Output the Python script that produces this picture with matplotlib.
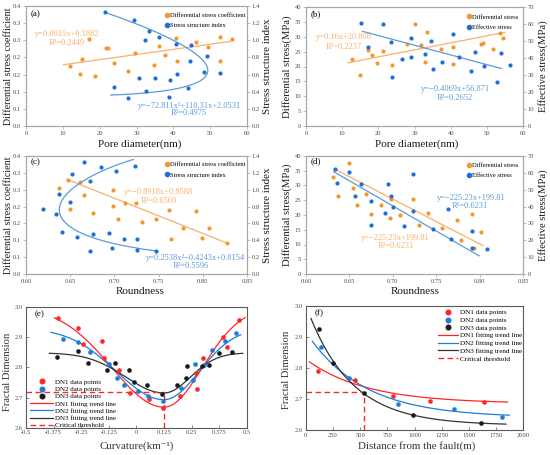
import numpy as np
import matplotlib
matplotlib.use('Agg')
import matplotlib.pyplot as plt
from matplotlib.path import Path
from matplotlib.patches import PathPatch
from matplotlib.lines import Line2D

plt.rcParams['font.family'] = ['Liberation Serif', 'DejaVu Serif']
plt.rcParams['axes.unicode_minus'] = False

# ---------------- data: panel (a) ----------------
a_pore_dsc = [11.97, 15.32, 17.23, 14.78, 18.68, 21.76, 22.39, 23.93, 27.65, 29.46,
              34.63, 36.08, 37.72, 40.71, 40.98, 46.24, 49.32, 52.67, 52.67, 55.85]
a_dsc = [0.1745, 0.1963, 0.2528, 0.1517, 0.1448, 0.2280, 0.2280, 0.1844, 0.1606, 0.2122,
         0.1765, 0.2340, 0.2082, 0.2578, 0.1894, 0.2449, 0.2310, 0.2588, 0.1894, 0.2548]
a_pore_ssi = [21.49, 29.28, 33.45, 32.18, 36.17, 40.71, 44.88, 44.51, 49.23, 48.41,
              52.67, 23.93, 30.64, 35.09, 39.17, 40.89, 32.55, 44.06, 38.80, 27.74]
a_ssi = [1.325, 1.234, 1.111, 1.004, 1.039, 0.952, 0.944, 0.754, 0.813, 0.635,
         0.619, 0.460, 0.559, 0.559, 0.536, 0.603, 0.409, 0.444, 0.337, 0.321]
a_lin_fit = (0.0015, 0.1635)          # slope, intercept (as drawn)
a_lin_range = [10.2, 55.5]
a_curve_x = [21.48, 41.87, 71.77, 22.84]   # Bezier trend-curve control points
a_curve_y = [1.324, 1.029, 0.435, 0.361]

# ---------------- data: panel (b) ----------------
b_pore_ds = [12.6, 15.0, 17.1, 18.3, 19.7, 21.3, 23.8, 27.9, 30.0, 31.8,
             33.0, 33.5, 37.3, 40.7, 40.7, 48.3, 48.9, 51.6, 53.7, 54.6]
b_ds = [22.4, 17.2, 25.5, 23.9, 21.1, 25.3, 20.6, 27.6, 34.2, 27.3,
        21.5, 31.7, 26.0, 26.4, 21.0, 27.4, 28.0, 25.8, 31.4, 29.5]
b_pore_es = [15.2, 21.3, 17.1, 23.5, 29.1, 23.8, 26.6, 28.9, 32.8, 34.7,
             35.1, 37.5, 40.7, 42.3, 46.8, 45.7, 49.3, 52.9, 53.9, 56.3]
b_es = [60.6, 60.0, 46.5, 49.7, 51.9, 29.0, 39.6, 40.4, 42.2, 50.1,
        33.6, 37.4, 54.3, 40.4, 43.7, 32.6, 35.4, 25.7, 43.0, 35.6]
b_ds_fit = (0.236, 18.51)
b_ds_range = [11.6, 55.0]
b_es_fit = (-0.570, 64.6)
b_es_range = [15.6, 54.0]

# ---------------- data: panel (c) ----------------
c_round_dsc = [0.6472, 0.6378, 0.6612, 0.6661, 0.6498, 0.6755, 0.6989, 0.6982, 0.7122, 0.7246,
               0.7046, 0.7310, 0.7473, 0.7613, 0.7639, 0.7775, 0.7918, 0.7986, 0.8066, 0.8277]
c_dsc = [0.280, 0.256, 0.273, 0.235, 0.194, 0.182, 0.250, 0.202, 0.212, 0.212,
         0.164, 0.154, 0.164, 0.191, 0.105, 0.135, 0.188, 0.108, 0.136, 0.091]
c_round_ssi = [0.6196, 0.6336, 0.6374, 0.6498, 0.6517, 0.6661, 0.6850, 0.7020, 0.7235, 0.6725,
               0.6412, 0.6574, 0.6763, 0.6940, 0.7103, 0.7254, 0.6725, 0.6971, 0.7254, 0.7469]
c_ssi = [0.767, 0.708, 0.945, 0.854, 1.190, 1.329, 1.269, 1.222, 1.281, 1.103,
         0.498, 0.440, 0.470, 0.490, 0.415, 0.411, 0.269, 0.308, 0.289, 0.269]
c_lin_fit = (-1.044, 0.9555)
c_lin_range = [0.6461, 0.8281]
c_curve_x = [0.7223, 0.6430, 0.5698, 0.7473]
c_curve_y = [1.361, 1.120, 0.518, 0.273]

# ---------------- data: panel (d) ----------------
d_round_ds = [0.6306, 0.6364, 0.6490, 0.6536, 0.6586, 0.6693, 0.6750, 0.6861, 0.6969, 0.6980,
              0.7083, 0.7229, 0.7302, 0.7401, 0.7570, 0.7734, 0.7784, 0.7918, 0.7933, 0.8018]
d_ds = [32.9, 26.3, 37.6, 29.3, 23.3, 27.0, 20.5, 23.3, 19.0, 25.4,
        19.9, 25.3, 16.7, 20.6, 15.6, 18.2, 11.6, 20.3, 8.7, 14.4]
d_round_es = [0.6329, 0.6360, 0.6490, 0.6570, 0.6636, 0.6750, 0.6750, 0.6911, 0.6942, 0.6980,
              0.6999, 0.7126, 0.7229, 0.7229, 0.7459, 0.7631, 0.7669, 0.7918, 0.7918, 0.8083]
d_es = [62.1, 54.0, 60.3, 46.5, 53.2, 43.1, 28.9, 36.2, 53.2, 46.5,
        39.9, 28.5, 59.5, 37.2, 26.9, 38.8, 20.6, 25.5, 15.2, 15.0]
d_ds_fit = (-152.0, 131.8)
d_ds_range = [0.633, 0.804]
d_es_fit = (-298.0, 249.0)
d_es_range = [0.6318, 0.7995]

# ---------------- data: panel (e) ----------------
e_dn1_x = [-0.3565, -0.2628, -0.2402, -0.1556, -0.1465, -0.0785, -0.0287, 0.0589,
           0.1208, 0.1994, 0.2749, 0.2719, 0.3021, 0.3943, 0.4094, 0.4637]
e_dn1_y = [2.963, 2.931, 2.879, 2.886, 2.831, 2.790, 2.716, 2.696,
           2.664, 2.706, 2.728, 2.782, 2.831, 2.902, 2.869, 2.958]
e_dn2_x = [-0.3308, -0.2643, -0.2100, -0.1239, -0.0891, -0.0544, 0.0060, 0.0544,
           0.1193, 0.2024, 0.2553, 0.2659, 0.3066, 0.3414, 0.4018, 0.4532]
e_dn2_y = [2.894, 2.883, 2.851, 2.812, 2.765, 2.740, 2.721, 2.704,
           2.689, 2.732, 2.758, 2.810, 2.808, 2.858, 2.887, 2.913]
e_dn3_x = [-0.3610, -0.2643, -0.2175, -0.1344, -0.0967, -0.0317, -0.0106, 0.0468,
           0.1178, 0.1828, 0.2251, 0.2281, 0.2961, 0.3308, 0.3746, 0.4350]
e_dn3_y = [2.835, 2.855, 2.816, 2.791, 2.813, 2.791, 2.751, 2.741,
           2.713, 2.741, 2.764, 2.805, 2.805, 2.807, 2.846, 2.851]
# asymmetric gaussian trough fits: base, depth, k_left, k_right, x_start, x_end
e_fit_dn1 = (3.000, 0.332, 9.0, 16.6, -0.372, 0.4925)
e_fit_dn2 = (2.930, 0.237, 10.8, 19.6, -0.387, 0.473)
e_fit_dn3 = (2.848, 0.133, 17.0, 35.0, -0.394, 0.482)
e_center = 0.125
e_threshold = 2.718
e_xticks = [-0.5, -0.375, -0.25, -0.125, 0, 0.125, 0.25, 0.375, 0.5]
e_xticklabels = ['-0.5', '-0.375', '-0.25', '-0.125', '0', '0.125', '0.25', '0.375', '0.5']

# ---------------- data: panel (f) ----------------
f_dn1_x = [116, 453, 805, 1142, 1642]
f_dn1_y = [2.791, 2.761, 2.710, 2.694, 2.690]
f_dn2_x = [141, 398, 845, 1363, 1807]
f_dn2_y = [2.866, 2.767, 2.684, 2.668, 2.643]
f_dn3_x = [126, 248, 533, 989, 1611]
f_dn3_y = [2.926, 2.815, 2.719, 2.648, 2.624]
# exponential decay fits: c, a, t, x_start, x_end  (y = c + a*exp(-x/t))
f_fit_dn1 = (2.685, 0.1425, 550, 34, 1856)
f_fit_dn2 = (2.640, 0.2755, 520, 61, 1871)
f_fit_dn3 = (2.615, 0.3877, 400, 49, 1841)
f_threshold_x = 533
f_threshold = 2.721

# ---------------- styles ----------------
ORANGE = '#F5972F'
BLUE = '#1F6FD6'
OL = '#F8B06A'
BL = '#5B9BDB'
RED = '#FF2626'
EBLUE = '#1F7BD8'
BLACK = '#1A1A1A'
GRID_GRAY = '#A6A6A6'
TICK_GRAY = '#4D4D4D'

W, H = 550, 455
fig = plt.figure(figsize=(5.5, 4.55), dpi=100)
fig.patch.set_facecolor('white')


def box(l, r, t, b):
    return [l / W, 1 - b / H, (r - l) / W, (b - t) / H]


def style_excel(ax):
    for s in ax.spines.values():
        s.set_color(GRID_GRAY)
        s.set_linewidth(0.8)
    ax.tick_params(direction='out', length=2, width=0.5, color=GRID_GRAY,
                   labelsize=4.7, labelcolor=TICK_GRAY, pad=1.5)


def style_origin(ax):
    for s in ax.spines.values():
        s.set_color('#5A5A5A')
        s.set_linewidth(0.8)
    ax.tick_params(direction='in', length=2, width=0.5, color='#5A5A5A',
                   labelsize=4.7, labelcolor=TICK_GRAY, pad=2)


def set_label(axis, text, x, y, size=8.0, color='#1A1A1A'):
    axis.set_label_text(text, fontsize=size, color=color)
    axis.label.set_verticalalignment('center')
    axis.label.set_horizontalalignment('center')
    axis.set_label_coords(x, y)


def bezier(ax, xs, ys, color):
    verts = list(zip(xs, ys))
    codes = [Path.MOVETO, Path.CURVE4, Path.CURVE4, Path.CURVE4]
    ax.add_patch(PathPatch(Path(verts, codes), fill=False, ec=color, lw=0.9,
                           transform=ax.transData, zorder=2))


def line_fit(ax, fit, rng, color):
    xs = np.array(rng)
    ax.plot(xs, fit[0] * xs + fit[1], color=color, lw=0.9, zorder=2)


def marker_legend(ax, labels, colors, bbox):
    hs = [Line2D([], [], marker='o', ls='none', color=c, ms=3.0) for c in colors]
    ax.legend(hs, labels, loc='upper right', bbox_to_anchor=bbox, frameon=False,
              fontsize=4.6, handlelength=0.6, handletextpad=0.2, labelspacing=0.75,
              borderaxespad=0.0, borderpad=0.2)


left_dsc_ticks = [0, 0.05, 0.10, 0.15, 0.20, 0.25, 0.30, 0.35]
left_dsc_labels = ['0.0', '0.1', '0.1', '0.2', '0.2', '0.3', '0.3', '0.4']
right_ssi_ticks = [0, 0.2, 0.4, 0.6, 0.8, 1.0, 1.2, 1.4]

MS = 9

# ---------------- (a) ----------------
ax = fig.add_axes(box(26, 247, 6, 126))
ax2 = ax.twinx()
style_excel(ax); style_excel(ax2)
ax.set_xlim(0, 60); ax.set_xticks(range(0, 61, 10))
ax.set_ylim(0, 0.35); ax.set_yticks(left_dsc_ticks); ax.set_yticklabels(left_dsc_labels)
ax2.set_ylim(0, 1.4); ax2.set_yticks(right_ssi_ticks)
ax2.set_yticklabels([f'{v:.1f}' for v in right_ssi_ticks])
ax.scatter(a_pore_dsc, a_dsc, s=MS, color=ORANGE, lw=0, zorder=3)
ax2.scatter(a_pore_ssi, a_ssi, s=MS, color=BLUE, lw=0, zorder=3)
line_fit(ax, a_lin_fit, a_lin_range, OL)
bezier(ax2, a_curve_x, a_curve_y, BL)
ax.text(0.02, 0.93, '(a)', transform=ax.transAxes, fontsize=6.5, ha='left', va='center')
ax.text(0.184, 0.764, 'y=0.0015x+0.1882', transform=ax.transAxes, fontsize=6, color=OL, ha='center', va='center')
ax.text(0.184, 0.694, 'R²=0.2449', transform=ax.transAxes, fontsize=6, color=OL, ha='center', va='center')
ax.text(0.742, 0.167, 'y=−72.811x²+110.31x+2.0531', transform=ax.transAxes, fontsize=6, color=BL, ha='center', va='center')
ax.text(0.737, 0.106, 'R²=0.4975', transform=ax.transAxes, fontsize=6, color=BL, ha='center', va='center')
marker_legend(ax2, ['Differential stress coefficient', 'Stress structure index'], [ORANGE, BLUE], (1.0, 0.955))
set_label(ax.xaxis, 'Pore diameter(nm)', 0.516, -0.15)
set_label(ax.yaxis, 'Differential stress coefficient', -0.08, 0.5, size=7.2)
set_label(ax2.yaxis, 'Stress structure index', 1.092, 0.5)

# ---------------- (b) ----------------
ax = fig.add_axes(box(306, 523, 7, 126))
ax2 = ax.twinx()
style_excel(ax); style_excel(ax2)
ax.set_xlim(0, 60); ax.set_xticks(range(0, 61, 10))
ax.set_ylim(0, 40); ax.set_yticks(range(0, 41, 5))
ax2.set_ylim(0, 70); ax2.set_yticks(range(0, 71, 10))
ax.scatter(b_pore_ds, b_ds, s=MS, color=ORANGE, lw=0, zorder=3)
ax2.scatter(b_pore_es, b_es, s=MS, color=BLUE, lw=0, zorder=3)
line_fit(ax, b_ds_fit, b_ds_range, OL)
line_fit(ax2, b_es_fit, b_es_range, BL)
ax.text(0.02, 0.94, '(b)', transform=ax.transAxes, fontsize=6.5, ha='left', va='center')
ax.text(0.175, 0.745, 'y=0.16x+20.808', transform=ax.transAxes, fontsize=6, color=OL, ha='center', va='center')
ax.text(0.172, 0.666, 'R²=0.2237', transform=ax.transAxes, fontsize=6, color=OL, ha='center', va='center')
ax.text(0.687, 0.308, 'y=−0.4069x+56.871', transform=ax.transAxes, fontsize=6, color=BL, ha='center', va='center')
ax.text(0.687, 0.233, 'R²=0.2652', transform=ax.transAxes, fontsize=6, color=BL, ha='center', va='center')
marker_legend(ax2, ['Differential stress', 'Effective stress'], [ORANGE, BLUE], (0.985, 0.95))
set_label(ax.xaxis, 'Pore diameter(nm)', 0.511, -0.154)
set_label(ax.yaxis, 'Differential stress(MPa)', -0.088, 0.5, size=7.7)
set_label(ax2.yaxis, 'Effective stress(MPa)', 1.09, 0.5, size=7.7)

# ---------------- (c) ----------------
ax = fig.add_axes(box(26, 247, 156, 274))
ax2 = ax.twinx()
style_excel(ax); style_excel(ax2)
ax.set_xlim(0.60, 0.85); ax.set_xticks([0.60, 0.65, 0.70, 0.75, 0.80, 0.85])
ax.set_xticklabels(['0.60', '0.65', '0.70', '0.75', '0.80', '0.85'])
ax.set_ylim(0, 0.35); ax.set_yticks(left_dsc_ticks); ax.set_yticklabels(left_dsc_labels)
ax2.set_ylim(0, 1.4); ax2.set_yticks(right_ssi_ticks)
ax2.set_yticklabels([f'{v:.1f}' for v in right_ssi_ticks])
ax.scatter(c_round_dsc, c_dsc, s=MS, color=ORANGE, lw=0, zorder=3)
ax2.scatter(c_round_ssi, c_ssi, s=MS, color=BLUE, lw=0, zorder=3)
line_fit(ax, c_lin_fit, c_lin_range, OL)
bezier(ax2, c_curve_x, c_curve_y, BL)
ax.text(0.02, 0.95, '(c)', transform=ax.transAxes, fontsize=6.5, ha='left', va='center')
ax.text(0.599, 0.692, 'y=−0.8918x+0.8588', transform=ax.transAxes, fontsize=6, color=OL, ha='center', va='center')
ax.text(0.599, 0.619, 'R²=0.6569', transform=ax.transAxes, fontsize=6, color=OL, ha='center', va='center')
ax.text(0.769, 0.133, 'y=0.2538x²−0.4243x+0.8154', transform=ax.transAxes, fontsize=6, color=BL, ha='center', va='center')
ax.text(0.747, 0.065, 'R²=0.5596', transform=ax.transAxes, fontsize=6, color=BL, ha='center', va='center')
marker_legend(ax2, ['Differential stress coefficient', 'Stress structure index'], [ORANGE, BLUE], (1.0, 0.96))
set_label(ax.xaxis, 'Roundness', 0.516, -0.15)
set_label(ax.yaxis, 'Differential stress coefficient', -0.08, 0.5, size=7.2)
set_label(ax2.yaxis, 'Stress structure index', 1.092, 0.5)

# ---------------- (d) ----------------
ax = fig.add_axes(box(306, 523, 156, 274))
ax2 = ax.twinx()
style_excel(ax); style_excel(ax2)
ax.set_xlim(0.60, 0.85); ax.set_xticks([0.60, 0.65, 0.70, 0.75, 0.80, 0.85])
ax.set_xticklabels(['0.60', '0.65', '0.70', '0.75', '0.80', '0.85'])
ax.set_ylim(0, 40); ax.set_yticks(range(0, 41, 5))
ax2.set_ylim(0, 70); ax2.set_yticks(range(0, 71, 10))
ax.scatter(d_round_ds, d_ds, s=MS, color=ORANGE, lw=0, zorder=3)
ax2.scatter(d_round_es, d_es, s=MS, color=BLUE, lw=0, zorder=3)
line_fit(ax, d_ds_fit, d_ds_range, OL)
line_fit(ax2, d_es_fit, d_es_range, BL)
ax.text(0.02, 0.955, '(d)', transform=ax.transAxes, fontsize=6.5, ha='left', va='center')
ax.text(0.763, 0.647, 'y=−225.23x+199.81', transform=ax.transAxes, fontsize=6, color=BL, ha='center', va='center')
ax.text(0.756, 0.576, 'R²=0.6231', transform=ax.transAxes, fontsize=6, color=BL, ha='center', va='center')
ax.text(0.413, 0.308, 'y=−225.23x+199.81', transform=ax.transAxes, fontsize=6, color=OL, ha='center', va='center')
ax.text(0.413, 0.237, 'R²=0.6231', transform=ax.transAxes, fontsize=6, color=OL, ha='center', va='center')
marker_legend(ax2, ['Differential stress', 'Effective stress'], [ORANGE, BLUE], (0.985, 0.955))
set_label(ax.xaxis, 'Roundness', 0.502, -0.15)
set_label(ax.yaxis, 'Differential stress(MPa)', -0.088, 0.5, size=7.7)
set_label(ax2.yaxis, 'Effective stress(MPa)', 1.09, 0.5, size=7.7)


# ---------------- (e) ----------------
def trough(x, p):
    base, depth, kl, kr = p[:4]
    k = np.where(x < e_center, kl, kr)
    return base - depth * np.exp(-k * (x - e_center) ** 2)


ax = fig.add_axes(box(26, 246.7, 307, 427.7))
style_origin(ax)
ax.set_xlim(-0.5, 0.5); ax.set_xticks(e_xticks); ax.set_xticklabels(e_xticklabels)
ax.set_ylim(2.6, 3.0); ax.set_yticks([2.6, 2.7, 2.8, 2.9, 3.0])
ax.set_yticklabels(['2.6', '2.7', '2.8', '2.9', '3.0'])
for fit, col in [(e_fit_dn1, RED), (e_fit_dn2, EBLUE), (e_fit_dn3, '#333333')]:
    xs = np.linspace(fit[4], fit[5], 300)
    ax.plot(xs, trough(xs, fit), color=col, lw=0.9, zorder=2)
ax.plot([-0.5, e_center], [e_threshold, e_threshold], color=RED, lw=1.0, ls=(0, (4, 2.5)), zorder=2)
ax.plot([e_center, e_center], [2.6, e_threshold], color=RED, lw=1.0, ls=(0, (4, 2.5)), zorder=2)
ax.scatter(e_dn1_x, e_dn1_y, s=11, color=RED, lw=0, zorder=3)
ax.scatter(e_dn2_x, e_dn2_y, s=11, color=EBLUE, lw=0, zorder=3)
ax.scatter(e_dn3_x, e_dn3_y, s=11, color=BLACK, lw=0, zorder=3)
ax.text(0.04, 0.937, '(e)', transform=ax.transAxes, fontsize=6.5, ha='left', va='center')
hs = [Line2D([], [], marker='o', ls='none', color=c, ms=3.3) for c in (RED, EBLUE, BLACK)]
hs += [Line2D([], [], color=c, lw=0.9) for c in (RED, EBLUE, '#333333')]
hs += [Line2D([], [], color=RED, lw=1.0, ls=(0, (4, 2.5)))]
labs = ['DN1 data points', 'DN2 data points', 'DN3 data points', 'DN1 fitting trend line',
        'DN2 fitting trend line', 'DN3 fitting trend line', 'Critical threshold']
ax.legend(hs, labs, loc='lower left', bbox_to_anchor=(0.02, -0.005), frameon=False, fontsize=5,
          handlelength=3.3, handletextpad=0.25, labelspacing=0.2, borderaxespad=0.0, borderpad=0.0)
set_label(ax.xaxis, 'Curvature(km⁻¹)', 0.503, -0.15, size=7.8, color='#333333')
set_label(ax.yaxis, 'Fractal Dimension', -0.085, 0.465, size=7.6, color='#333333')

# ---------------- (f) ----------------
ax = fig.add_axes(box(305.7, 523.3, 305.5, 430))
style_origin(ax)
ax.set_xlim(0, 2000); ax.set_xticks(range(0, 2001, 250))
ax.set_ylim(2.6, 3.0); ax.set_yticks([2.6, 2.7, 2.8, 2.9, 3.0])
ax.set_yticklabels(['2.6', '2.7', '2.8', '2.9', '3.0'])
for fit, col in [(f_fit_dn1, RED), (f_fit_dn2, EBLUE), (f_fit_dn3, '#333333')]:
    xs = np.linspace(fit[3], fit[4], 300)
    ax.plot(xs, fit[0] + fit[1] * np.exp(-xs / fit[2]), color=col, lw=0.9, zorder=2)
ax.plot([0, f_threshold_x], [f_threshold, f_threshold], color=RED, lw=1.0, ls=(0, (4, 2.5)), zorder=2)
ax.plot([f_threshold_x, f_threshold_x], [2.6, f_threshold], color=RED, lw=1.0, ls=(0, (4, 2.5)), zorder=2)
ax.scatter(f_dn1_x, f_dn1_y, s=11, color=RED, lw=0, zorder=3)
ax.scatter(f_dn2_x, f_dn2_y, s=11, color=EBLUE, lw=0, zorder=3)
ax.scatter(f_dn3_x, f_dn3_y, s=11, color=BLACK, lw=0, zorder=3)
ax.text(0.04, 0.935, '(f)', transform=ax.transAxes, fontsize=6.5, ha='left', va='center')
ax.legend(hs, labs, loc='upper right', bbox_to_anchor=(1.0, 0.975), frameon=False, fontsize=5.1,
          handlelength=2.9, handletextpad=0.3, labelspacing=0.25, borderaxespad=0.0, borderpad=0.1)
set_label(ax.xaxis, 'Distance from the fault(m)', 0.512, -0.128, size=7.8, color='#333333')
set_label(ax.yaxis, 'Fractal Dimension', -0.09, 0.48, size=7.6, color='#333333')

fig.savefig('out.png', dpi=100, facecolor='white')
